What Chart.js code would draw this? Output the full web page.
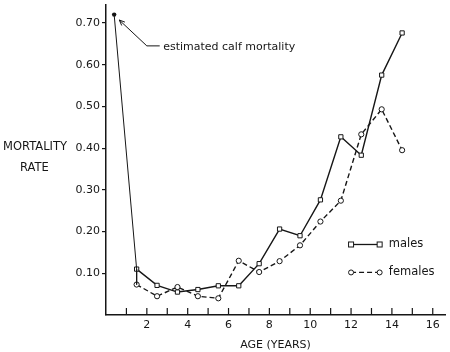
<!DOCTYPE html>
<html>
<head>
<meta charset="utf-8">
<script src="https://cdn.jsdelivr.net/npm/chart.js@4.4.1/dist/chart.umd.min.js"></script>
<style>
  html, body { margin: 0; padding: 0; background: #fff; }
  #wrap { width: 450px; height: 352px; }
</style>
</head>
<body>
<div id="wrap"><canvas id="mortalityChart" width="450" height="352"></canvas></div>
<script>
// ages (years) at which rates were measured
const ages = [1.5, 2.5, 3.5, 4.5, 5.5, 6.5, 7.5, 8.5, 9.5, 10.5, 11.5, 12.5, 13.5, 14.5];
const maleRates = [0.11, 0.071, 0.055, 0.061, 0.07, 0.07, 0.123, 0.206, 0.19, 0.276, 0.427, 0.383, 0.575, 0.676];
const femaleRates = [0.073, 0.045, 0.067, 0.045, 0.04, 0.13, 0.103, 0.129, 0.167, 0.224, 0.274, 0.433, 0.493, 0.395];
const calfAge = 0.4;
const calfRate = 0.72;
const yTicks = [0.1, 0.2, 0.3, 0.4, 0.5, 0.6, 0.7];
const xLabels = [2, 4, 6, 8, 10, 12, 14, 16];

const FONT = '"DejaVu Sans", sans-serif';
const INK = '#161616';

function toPoints(xs, ys) {
    return xs.map((x, i) => ({ x: x, y: ys[i] }));
}

const extras = {
    id: 'extras',
    afterDraw(chart) {
        const ctx = chart.ctx;
        const xs = chart.scales.x;
        const ys = chart.scales.y;
        const area = chart.chartArea;
        ctx.save();
        ctx.strokeStyle = INK;
        ctx.fillStyle = INK;

        // inward x ticks every year
        ctx.lineWidth = 1.2;
        for (let v = 1; v <= 16; v++) {
            const px = xs.getPixelForValue(v);
            ctx.beginPath();
            ctx.moveTo(px, area.bottom);
            ctx.lineTo(px, area.bottom - 7);
            ctx.stroke();
        }

        // y axis title
        ctx.font = '11.5px ' + FONT;
        ctx.textAlign = 'left';
        ctx.textBaseline = 'middle';
        ctx.fillText('MORTALITY', 3, 147);
        ctx.fillText('RATE', 20, 168);

        // annotation arrow
        const ax = xs.getPixelForValue(2.0), ay = ys.getPixelForValue(0.645);
        const tx = xs.getPixelForValue(0.65), ty = ys.getPixelForValue(0.707);
        ctx.lineWidth = 1;
        ctx.beginPath();
        ctx.moveTo(xs.getPixelForValue(2.63), ay);
        ctx.lineTo(ax, ay);
        ctx.lineTo(tx, ty);
        ctx.stroke();
        const ang = Math.atan2(ty - ay, tx - ax);
        ctx.beginPath();
        ctx.moveTo(tx, ty);
        ctx.lineTo(tx - 6 * Math.cos(ang - 0.4), ty - 6 * Math.sin(ang - 0.4));
        ctx.moveTo(tx, ty);
        ctx.lineTo(tx - 6 * Math.cos(ang + 0.4), ty - 6 * Math.sin(ang + 0.4));
        ctx.stroke();
        ctx.font = '11px ' + FONT;
        ctx.fillText('estimated calf mortality', xs.getPixelForValue(2.8), ay + 1);

        // legend
        const lx0 = xs.getPixelForValue(12.0), lx1 = xs.getPixelForValue(13.4);
        const lt = xs.getPixelForValue(13.85);
        const my = ys.getPixelForValue(0.169), fy = ys.getPixelForValue(0.102);
        ctx.lineWidth = 1.3;
        ctx.beginPath();
        ctx.moveTo(lx0, my);
        ctx.lineTo(lx1, my);
        ctx.stroke();
        ctx.setLineDash([5, 3]);
        ctx.beginPath();
        ctx.moveTo(lx0, fy);
        ctx.lineTo(lx1, fy);
        ctx.stroke();
        ctx.setLineDash([]);
        ctx.lineWidth = 1;
        ctx.fillStyle = '#fff';
        [lx0, lx1].forEach(px => {
            ctx.fillRect(px - 2.5, my - 2.5, 5, 5);
            ctx.strokeRect(px - 2.5, my - 2.5, 5, 5);
            ctx.beginPath();
            ctx.arc(px, fy, 2.5, 0, Math.PI * 2);
            ctx.fill();
            ctx.stroke();
        });
        ctx.fillStyle = INK;
        ctx.font = '11.5px ' + FONT;
        ctx.fillText('males', lt, my);
        ctx.fillText('females', lt, fy);
        ctx.restore();
    }
};

new Chart(document.getElementById('mortalityChart'), {
    type: 'line',
    data: {
        datasets: [
            {
                label: 'calf',
                data: [{ x: calfAge, y: calfRate }, { x: ages[0], y: maleRates[0] }, { x: ages[0], y: femaleRates[0] }],
                borderColor: INK,
                borderWidth: 1,
                pointRadius: [2.2, 0, 0],
                pointBackgroundColor: INK,
                pointBorderWidth: 0
            },
            {
                label: 'males',
                data: toPoints(ages, maleRates),
                borderColor: INK,
                borderWidth: 1.4,
                pointStyle: 'rect',
                pointRadius: 3,
                pointBackgroundColor: '#fff',
                pointBorderColor: INK,
                pointBorderWidth: 1
            },
            {
                label: 'females',
                data: toPoints(ages, femaleRates),
                borderColor: INK,
                borderWidth: 1.4,
                borderDash: [5, 3],
                pointStyle: 'circle',
                pointRadius: 2.6,
                pointBackgroundColor: '#fff',
                pointBorderColor: INK,
                pointBorderWidth: 1
            }
        ]
    },
    options: {
        responsive: false,
        animation: false,
        layout: { padding: { top: 3, right: 1, left: 0, bottom: 0 } },
        plugins: {
            legend: { display: false },
            tooltip: { enabled: false }
        },
        scales: {
            x: {
                type: 'linear',
                min: 0,
                max: 16.6,
                afterBuildTicks: axis => { axis.ticks = xLabels.map(v => ({ value: v })); },
                afterFit: axis => {
                    axis.height = 37;
                    axis.paddingLeft = 0;
                    axis.paddingRight = 0;
                },
                ticks: {
                    color: INK,
                    font: { family: FONT, size: 11 },
                    padding: 4,
                    maxRotation: 0,
                    callback: v => String(v)
                },
                grid: { display: false, drawTicks: false },
                border: { color: INK, width: 1.5 },
                title: {
                    display: true,
                    text: 'AGE (YEARS)',
                    color: INK,
                    font: { family: FONT, size: 11 },
                    padding: { top: 11, bottom: 0 }
                }
            },
            y: {
                min: 0,
                max: 0.743,
                afterBuildTicks: axis => { axis.ticks = yTicks.map(v => ({ value: v })); },
                afterFit: axis => {
                    axis.width = 106;
                    axis.paddingTop = 0;
                    axis.paddingBottom = 0;
                },
                ticks: {
                    color: INK,
                    font: { family: FONT, size: 11 },
                    padding: 2,
                    callback: v => v.toFixed(2)
                },
                grid: { drawOnChartArea: false, drawTicks: true, tickLength: 4, color: INK, lineWidth: 1.2 },
                border: { color: INK, width: 1.5 }
            }
        }
    },
    plugins: [extras]
});
</script>
</body>
</html>
